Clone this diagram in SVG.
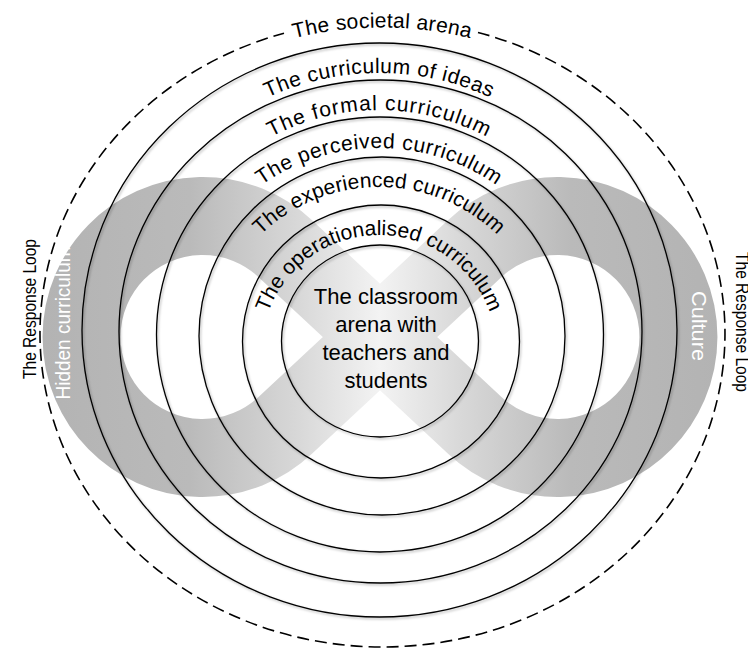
<svg xmlns="http://www.w3.org/2000/svg" width="748" height="650" viewBox="0 0 748 650">
  <defs>
    <linearGradient id="bandGrad" gradientUnits="userSpaceOnUse" x1="40" y1="0" x2="720" y2="0">
      <stop offset="0" stop-color="#b3b3b3"/>
      <stop offset="0.22" stop-color="#bababa"/>
      <stop offset="0.38" stop-color="#d8d8d8"/>
      <stop offset="0.5" stop-color="#f3f3f3"/>
      <stop offset="0.62" stop-color="#d8d8d8"/>
      <stop offset="0.78" stop-color="#bababa"/>
      <stop offset="1" stop-color="#b3b3b3"/>
    </linearGradient>
    <filter id="shadow" x="-10%" y="-10%" width="120%" height="120%">
      <feDropShadow dx="1.2" dy="1.5" stdDeviation="1" flood-color="#000" flood-opacity="0.3"/>
    </filter>
    <path id="p-societal" d="M 47 333.5 A 335 306 0 0 1 717 333.5"/>
    <path id="p-ideas" d="M 115 337 A 264 264 0 0 1 643 337"/>
    <path id="p-formal" d="M 149 340 A 230 230 0 0 1 609 340"/>
    <path id="p-perceived" d="M 175 352 A 204 204 0 0 1 583 352"/>
    <path id="p-experienced" d="M 209 357 A 170 170 0 0 1 549 357"/>
    <path id="p-operational" d="M 261 353 A 118 118 0 0 1 497 353"/>
  </defs>
  <style>
    .ring { fill: none; stroke: #000; stroke-width: 1.3; }
    .dashed { fill: none; stroke: #000; stroke-width: 1.6; stroke-dasharray: 12 6; }
    .lbl { font-family: "Liberation Sans", Arial, sans-serif; font-size: 21px; fill: #000; }
    .side { font-family: "Liberation Sans", Arial, sans-serif; font-size: 19px; fill: #000; }
    .band-lbl { font-family: "Liberation Sans", Arial, sans-serif; font-size: 20px; fill: #fff; }
    .center { font-family: "Liberation Sans", Arial, sans-serif; font-size: 22px; fill: #000; text-anchor: middle; }
  </style>

  <g id="infinity-band">
    <path d="M 380 337 L 285.5 248.9 A 121 121 0 1 0 285.5 425.1 L 474.5 248.9 A 121 121 0 1 1 474.5 425.1 Z" fill="none" stroke="url(#bandGrad)" stroke-width="78" stroke-linejoin="round"/>
    <text class="band-lbl" transform="translate(70 323) rotate(-90)" text-anchor="middle" textLength="153" lengthAdjust="spacingAndGlyphs">Hidden curriculum</text>
    <text class="band-lbl" transform="translate(692 326) rotate(90)" text-anchor="middle" textLength="70" lengthAdjust="spacingAndGlyphs">Culture</text>
  </g>

  <g id="societal-arena">
    <path class="dashed" d="M 478 32.4 A 342.5 313.5 0 1 1 284 33.2"/>
    <text class="lbl"><textPath href="#p-societal" startOffset="50%" text-anchor="middle" textLength="178">The societal arena</textPath></text>
    <text class="side" transform="translate(36 309) rotate(-90)" text-anchor="middle" textLength="140" lengthAdjust="spacingAndGlyphs">The Response Loop</text>
    <text class="side" transform="translate(736 322) rotate(90)" text-anchor="middle" textLength="140" lengthAdjust="spacingAndGlyphs">The Response Loop</text>
  </g>

  <g id="rings" filter="url(#shadow)">
    <g id="curriculum-of-ideas"><ellipse class="ring" cx="379.5" cy="330" rx="297.5" ry="287"/></g>
    <g id="formal-curriculum"><ellipse class="ring" cx="380.5" cy="331.5" rx="261.5" ry="251.5"/></g>
    <g id="perceived-curriculum"><ellipse class="ring" cx="380" cy="334.5" rx="223.5" ry="217.5"/></g>
    <g id="experienced-curriculum"><ellipse class="ring" cx="382" cy="336" rx="183" ry="179"/></g>
    <g id="operationalised-curriculum"><ellipse class="ring" cx="381" cy="341.5" rx="138.5" ry="136.5"/></g>
    <g id="classroom-arena"><ellipse class="ring" cx="380" cy="341" rx="98.5" ry="96"/></g>
  </g>

  <g id="labels">
    <text class="lbl"><textPath href="#p-ideas" startOffset="50%" text-anchor="middle" textLength="230">The curriculum of ideas</textPath></text>
    <text class="lbl"><textPath href="#p-formal" startOffset="50%" text-anchor="middle" textLength="224">The formal curriculum</textPath></text>
    <text class="lbl"><textPath href="#p-perceived" startOffset="50%" text-anchor="middle" textLength="250">The perceived curriculum</textPath></text>
    <text class="lbl"><textPath href="#p-experienced" startOffset="50%" text-anchor="middle" textLength="262">The experienced curriculum</textPath></text>
    <text class="lbl"><textPath href="#p-operational" startOffset="50%" text-anchor="middle" textLength="288">The operationalised curriculum</textPath></text>
    <text class="center" x="386" y="304">The classroom</text>
    <text class="center" x="386" y="332">arena with</text>
    <text class="center" x="386" y="360">teachers and</text>
    <text class="center" x="386" y="388">students</text>
  </g>
</svg>
